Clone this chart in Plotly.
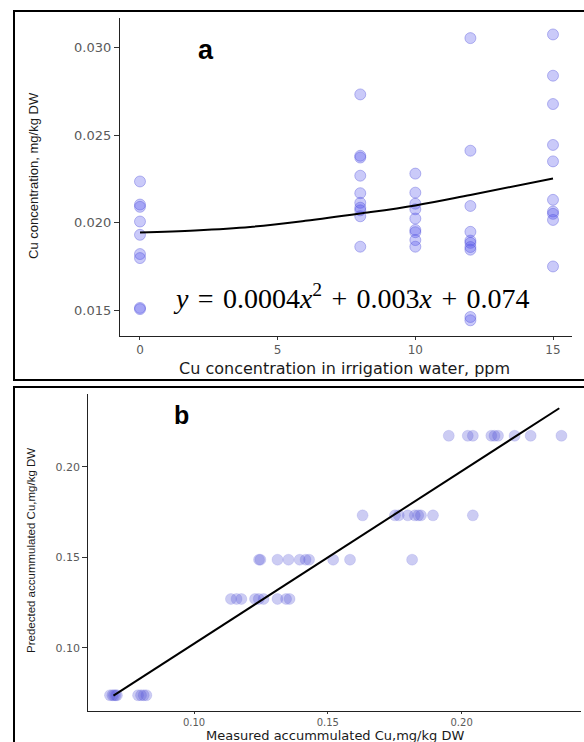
import plotly.graph_objects as go

# ---------------- Panel a data ----------------
dose_levels = [0, 8, 10, 12, 15]
cu_dose0 = [0.02235, 0.02103, 0.0209, 0.02006, 0.0193, 0.0182, 0.01797, 0.01512, 0.01505]
cu_dose8 = [0.02733, 0.02382, 0.02372, 0.02268, 0.02168, 0.02113, 0.02085, 0.0207, 0.02036, 0.01862]
cu_dose10 = [0.0228, 0.02171, 0.02108, 0.02076, 0.02023, 0.01958, 0.01945, 0.019, 0.01862]
cu_dose12 = [0.03055, 0.02411, 0.02095, 0.01947, 0.01897, 0.01884, 0.0186, 0.01845, 0.0146, 0.01441]
cu_dose15 = [0.03076, 0.0284, 0.02678, 0.02444, 0.0235, 0.0213, 0.02063, 0.0205, 0.02015, 0.01749]
fit_a_x = [0, 2, 4, 6, 8, 10, 12, 15]
fit_a_y = [0.01943, 0.01955, 0.01975, 0.0201, 0.02052, 0.02098, 0.02158, 0.02252]
a_xticks = [0, 5, 10, 15]
a_yticks = [0.015, 0.020, 0.025, 0.030]
a_ytick_text = ["0.015", "0.020", "0.025", "0.030"]

# ---------------- Panel b data ----------------
pred_levels = [0.0737, 0.1269, 0.1486, 0.1731, 0.2171]
meas_lvl1 = [0.0686, 0.0695, 0.0701, 0.0707, 0.0712, 0.0791, 0.0802, 0.0812, 0.0822]
meas_lvl2 = [0.1138, 0.1159, 0.1177, 0.1228, 0.1242, 0.126, 0.1312, 0.1344, 0.1357]
meas_lvl3 = [0.1243, 0.1248, 0.1312, 0.1353, 0.1395, 0.1417, 0.143, 0.152, 0.1583, 0.1815]
meas_lvl4 = [0.163, 0.1751, 0.1765, 0.1799, 0.1825, 0.1838, 0.1848, 0.1893, 0.2042]
meas_lvl5 = [0.1952, 0.2023, 0.2042, 0.2111, 0.2123, 0.2136, 0.2198, 0.2258, 0.2373]
fit_b_x = [0.0699, 0.2365]
fit_b_y = [0.0735, 0.2323]
b_ticks = [0.10, 0.15, 0.20]
b_tick_text = ["0.10", "0.15", "0.20"]

W, H = 584, 742

def px(x):
    return x / W

def py(y):
    return 1 - y / H

ax_groups = [cu_dose0, cu_dose8, cu_dose10, cu_dose12, cu_dose15]
a_x, a_y = [], []
for d, vals in zip(dose_levels, ax_groups):
    a_x += [d] * len(vals)
    a_y += vals

b_groups = [meas_lvl1, meas_lvl2, meas_lvl3, meas_lvl4, meas_lvl5]
b_x, b_y = [], []
for lv, vals in zip(pred_levels, b_groups):
    b_x += vals
    b_y += [lv] * len(vals)

fig = go.Figure()
fig.add_trace(go.Scatter(
    x=a_x, y=a_y, mode="markers", xaxis="x", yaxis="y",
    marker=dict(size=11, color="rgba(80,80,235,0.3)",
                line=dict(color="rgba(70,70,215,0.35)", width=1)),
    showlegend=False, hoverinfo="skip"))
fig.add_trace(go.Scatter(
    x=fit_a_x, y=fit_a_y, mode="lines", xaxis="x", yaxis="y",
    line=dict(color="black", width=2, shape="spline"),
    showlegend=False, hoverinfo="skip"))
fig.add_trace(go.Scatter(
    x=b_x, y=b_y, mode="markers", xaxis="x2", yaxis="y2",
    marker=dict(size=11, color="rgba(85,85,215,0.3)",
                line=dict(color="rgba(85,85,215,0.15)", width=1)),
    showlegend=False, hoverinfo="skip"))
fig.add_trace(go.Scatter(
    x=fit_b_x, y=fit_b_y, mode="lines", xaxis="x2", yaxis="y2",
    line=dict(color="black", width=2),
    showlegend=False, hoverinfo="skip"))

tick_col = "#5a5a5a"
axis_common = dict(showgrid=False, zeroline=False, showline=True,
                   linecolor="#222222", linewidth=1.3, ticks="outside",
                   tickwidth=1, tickcolor="#333333")

fig.update_layout(
    width=W, height=H, autosize=False,
    margin=dict(l=0, r=0, t=0, b=0),
    paper_bgcolor="white", plot_bgcolor="white",
    xaxis=dict(domain=[px(120), px(572)], range=[-0.726, 15.69],
               tickvals=a_xticks, anchor="y", ticklen=3,
               tickfont=dict(family="DejaVu Sans", size=12, color=tick_col),
               **axis_common),
    yaxis=dict(domain=[py(335.7), py(18)], range=[0.01353, 0.0317],
               tickvals=a_yticks, ticktext=a_ytick_text, anchor="x", ticklen=5,
               tickfont=dict(family="DejaVu Sans", size=13, color=tick_col),
               **axis_common),
    xaxis2=dict(domain=[px(88.3), px(580.7)], range=[0.0605, 0.2445],
                tickvals=b_ticks, ticktext=b_tick_text, anchor="y2", ticklen=2,
                tickfont=dict(family="DejaVu Sans", size=10, color=tick_col),
                **axis_common),
    yaxis2=dict(domain=[py(711), py(394.3)], range=[0.065, 0.24],
                tickvals=b_ticks, ticktext=b_tick_text, anchor="x2", ticklen=5,
                tickfont=dict(family="DejaVu Sans", size=11, color=tick_col),
                **axis_common),
)

hs = "\u200a"
eq_text = ("<i>y</i>" + hs + " = " + hs + "0.0004<i>x</i><sup>2</sup>" + hs + " + " + hs
           + "0.003<i>x</i>" + hs + " + " + hs + "0.074")

def ann(text, x, y, size, family, angle=0, color="#1a1a1a"):
    return dict(text=text, x=px(x), y=py(y), xref="paper", yref="paper",
                xanchor="center", yanchor="middle", textangle=angle,
                showarrow=False, font=dict(family=family, size=size, color=color))

annotations = [
    ann("<b>a</b>", 206, 50, 27, "Liberation Sans", color="black"),
    ann("<b>b</b>", 181, 415, 25, "Liberation Sans", color="black"),
    ann(eq_text, 351.5, 297, 28, "Liberation Serif", color="black"),
    ann("Cu concentration in irrigation water, ppm", 344, 368, 16, "DejaVu Sans"),
    ann("Cu concentration, mg/kg DW", 33, 176, 13, "Liberation Sans", angle=-90),
    ann("Measured accummulated Cu,mg/kg DW", 334.5, 735, 13, "DejaVu Sans"),
    ann("Predected accummulated Cu,mg/kg DW", 31, 551, 11.5, "Liberation Sans", angle=-90),
]
fig.update_layout(annotations=annotations)

shapes = [
    dict(type="rect", xref="paper", yref="paper", x0=px(14), x1=px(600),
         y0=py(380), y1=py(11), line=dict(color="black", width=2)),
    dict(type="rect", xref="paper", yref="paper", x0=px(14), x1=px(600),
         y0=py(760), y1=py(387), line=dict(color="black", width=2)),
]
fig.update_layout(shapes=shapes)

fig.write_html("out.html", config={"displayModeBar": False},
               post_script="document.body.style.margin='0px';")
